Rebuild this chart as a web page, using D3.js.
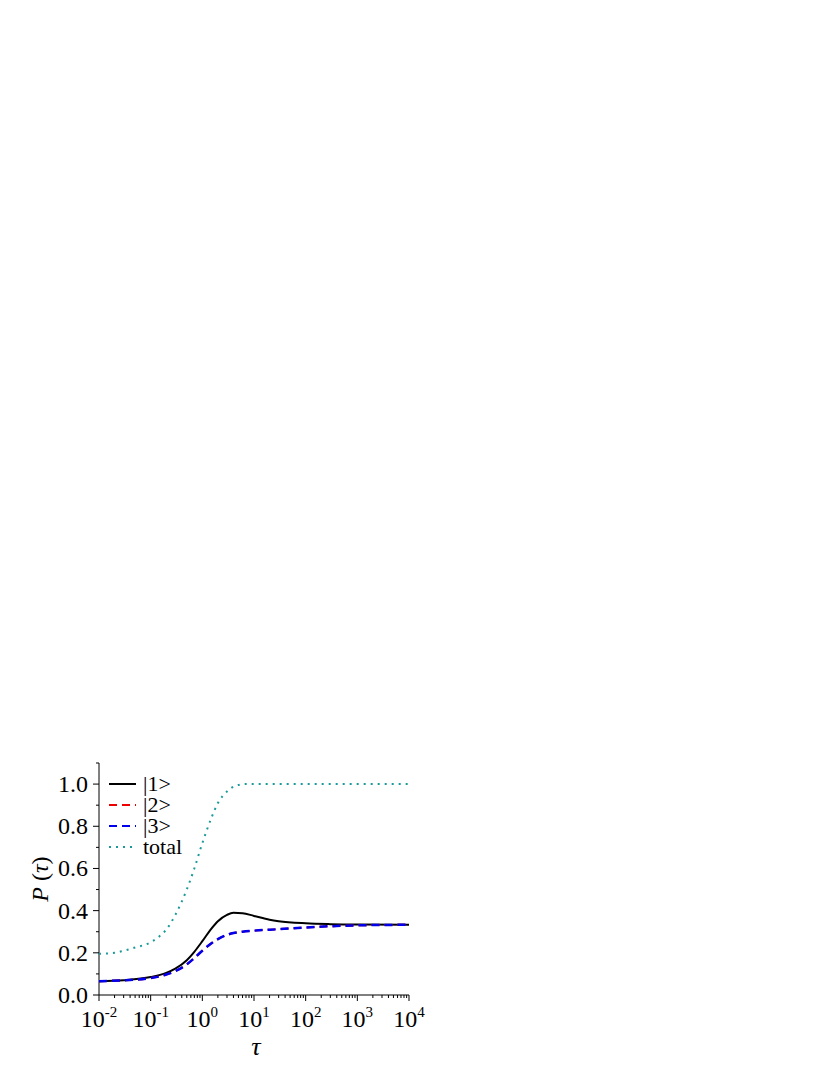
<!DOCTYPE html><html><head><script src="https://cdn.jsdelivr.net/npm/d3@7"></script>
<style>body{margin:0;background:#fff}text{font-family:"Liberation Serif",serif}</style></head><body><svg id="c" width="830" height="1075"></svg><script>
const tau1=[0.01,0.03,0.1,0.2,0.3,0.5,0.7,1,1.5,2,3,4,6,10,20,30,100,300,1000,10000];
const p1=[0.065,0.07,0.085,0.105,0.125,0.165,0.205,0.255,0.315,0.35,0.38,0.39,0.388,0.375,0.357,0.35,0.34,0.336,0.334,0.333];
const tau3=[0.01,0.03,0.1,0.2,0.3,0.5,0.7,1,1.5,2,3,4,6,10,30,100,300,1000,10000];
const p3=[0.065,0.07,0.08,0.097,0.113,0.145,0.175,0.21,0.245,0.265,0.285,0.294,0.3,0.305,0.312,0.32,0.326,0.33,0.333];
const tauT=[0.01,0.02,0.03,0.05,0.1,0.15,0.2,0.3,0.5,0.7,1,1.5,2,3,4,5,7,10,100,10000];
const pT=[0.195,0.2,0.21,0.225,0.25,0.28,0.31,0.38,0.5,0.6,0.72,0.84,0.91,0.965,0.988,0.996,1,1,1,1];
const yTicks=[0,0.2,0.4,0.6,0.8,1.0];
const xExp=[-2,-1,0,1,2,3,4];
const svg=d3.select("#c");
const x=d3.scaleLog().domain([0.01,10000]).range([99,409]);
const y=d3.scaleLinear().domain([0,1.1]).range([995,763]);
const ax=svg.append("g").attr("transform","translate(0,995)");
ax.append("line").attr("x1",99).attr("x2",409).attr("stroke","#000");
xExp.forEach(e=>{ax.append("line").attr("x1",x(10**e)).attr("x2",x(10**e)).attr("y2",6).attr("stroke","#000");
 const t=ax.append("text").attr("x",x(10**e)).attr("y",32).attr("text-anchor","middle").attr("font-size",24);
 t.append("tspan").text("10");t.append("tspan").attr("dy",-10).attr("font-size",15).text(e);});
for(let e=-2;e<4;e++)for(let k=2;k<10;k++){const v=k*10**e;ax.append("line").attr("x1",x(v)).attr("x2",x(v)).attr("y2",3).attr("stroke","#000");}
const ay=svg.append("g");
ay.append("line").attr("x1",99).attr("x2",99).attr("y1",763).attr("y2",995).attr("stroke","#000");
yTicks.forEach(v=>{ay.append("line").attr("x1",93).attr("x2",99).attr("y1",y(v)).attr("y2",y(v)).attr("stroke","#000");
 ay.append("text").attr("x",88).attr("y",y(v)+8).attr("text-anchor","end").attr("font-size",24).text(v.toFixed(1));});
for(let v=0.1;v<1.1;v+=0.2)ay.append("line").attr("x1",96).attr("x2",99).attr("y1",y(v)).attr("y2",y(v)).attr("stroke","#000");
svg.append("text").attr("x",256).attr("y",1055).attr("text-anchor","middle").attr("font-size",26).attr("font-style","italic").text("τ");
svg.append("text").attr("transform","translate(48,879) rotate(-90)").attr("text-anchor","middle").attr("font-size",24)
 .html('<tspan font-style="italic">P</tspan> (<tspan font-style="italic">τ</tspan>)');
const line=d3.line().x(d=>x(d[0])).y(d=>y(d[1])).curve(d3.curveMonotoneX);
const mk=(t,p)=>t.map((v,i)=>[v,p[i]]);
svg.append("path").attr("d",line(mk(tauT,pT))).attr("fill","none").attr("stroke","#1a9a9a").attr("stroke-width",2).attr("stroke-dasharray","2,5");
svg.append("path").attr("d",line(mk(tau1,p1))).attr("fill","none").attr("stroke","#000").attr("stroke-width",2);
svg.append("path").attr("d",line(mk(tau3,p3))).attr("fill","none").attr("stroke","#e00").attr("stroke-width",2).attr("stroke-dasharray","8,5");
svg.append("path").attr("d",line(mk(tau3,p3))).attr("fill","none").attr("stroke","#00e").attr("stroke-width",2.5).attr("stroke-dasharray","8,5");
const leg=[["|1>","#000",null],["|2>","#e00","8,5"],["|3>","#00e","8,5"],["total","#1a9a9a","2,5"]];
leg.forEach((l,i)=>{const yy=784+i*21;
 svg.append("line").attr("x1",109).attr("x2",136).attr("y1",yy).attr("y2",yy).attr("stroke",l[1]).attr("stroke-width",2).attr("stroke-dasharray",l[2]);
 svg.append("text").attr("x",143).attr("y",yy+7).attr("font-size",22).text(l[0]);});
</script></body></html>
